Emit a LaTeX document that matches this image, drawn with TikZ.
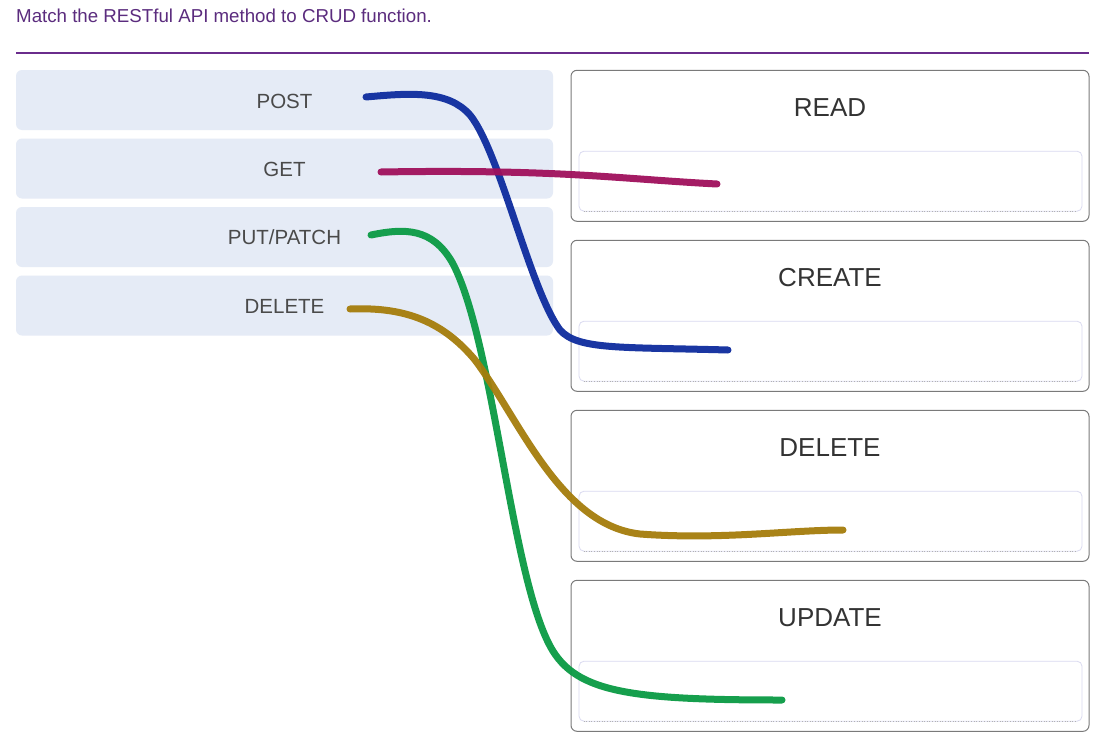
\documentclass[tikz,border=0pt]{standalone}
\usepackage{fontspec}
\setmainfont{Liberation Sans}
\definecolor{titlepurple}{HTML}{5B2C7E}
\definecolor{rulepurple}{HTML}{6A2C8C}
\definecolor{leftfill}{HTML}{E5EBF6}
\definecolor{lefttext}{HTML}{4A4A4A}
\definecolor{righttext}{HTML}{333333}
\definecolor{boxborder}{HTML}{7A7A7A}
\definecolor{slotborder}{HTML}{DADAF0}
\definecolor{penblue}{HTML}{0E2C9E}
\definecolor{penmag}{HTML}{A0105C}
\definecolor{pengreen}{HTML}{0A9A44}
\definecolor{pengold}{HTML}{A57D0C}
\begin{document}
\begin{tikzpicture}[x=1pt,y=-1pt,
  leftbox/.style={rectangle, rounded corners=6pt, fill=leftfill, draw=none,
    minimum width=537pt, minimum height=60pt, inner sep=0pt},
  leftlabel/.style={anchor=base, text=lefttext, inner sep=0pt,
    font=\fontsize{20.5}{24}\selectfont},
  rightbox/.style={rectangle, rounded corners=6pt, draw=boxborder, line width=1pt,
    fill=white, minimum width=518pt, minimum height=151pt, inner sep=0pt},
  rightlabel/.style={anchor=base, text=righttext, inner sep=0pt,
    font=\fontsize{26}{30}\selectfont},
  slot/.style={rectangle, rounded corners=5pt, draw=slotborder, line width=0.8pt,
    minimum width=503pt, minimum height=60pt, inner sep=0pt},
  pen/.style={line width=7pt, line cap=round, line join=round, opacity=0.95}
]
\useasboundingbox (0,0) rectangle (1102,752);
\fill[white] (0,0) rectangle (1102,752);

% title and rule
\node[anchor=base west, inner sep=0pt, text=titlepurple,
  font=\fontsize{18.7}{22}\selectfont] (title) at (16,22.7)
  {Match the RESTful API method to CRUD function.};
\coordinate (ruleL) at (16,53.3);
\coordinate (ruleR) at (1089,53.3);
\draw[rulepurple, line width=2pt] (ruleL) -- (ruleR);

% left items
\node[leftbox] (bpost) at (284.5,100) {};
\node[leftbox] (bget)  at (284.5,168.5) {};
\node[leftbox] (bput)  at (284.5,237) {};
\node[leftbox] (bdel)  at (284.5,305.5) {};
\node[leftlabel] (lpost) at (284.5,108) {POST};
\node[leftlabel] (lget)  at (284.5,176.3) {GET};
\node[leftlabel] (lput)  at (284.5,244.8) {PUT/PATCH};
\node[leftlabel] (ldel)  at (284.5,313.2) {DELETE};

% right targets
\foreach \name/\txt/\cy in {read/READ/145.8, create/CREATE/315.8, delete/DELETE/485.8, update/UPDATE/655.8}{
  \node[rightbox] (r\name) at (830,\cy) {};
  \node[rightlabel] (t\name) at (830,\cy-29.6) {\txt};
  \node[slot] (s\name) at (830.5,\cy+35.4) {};
  \draw[gray!60, line width=0.6pt, dotted] ([xshift=5pt]s\name.south west) -- ([xshift=-5pt]s\name.south east);
}

% connector end points
\coordinate (p1) at (366,97);
\coordinate (q1) at (728,350);
\coordinate (p2) at (381,172);
\coordinate (q2) at (717,184);
\coordinate (p3) at (371,235);
\coordinate (q3) at (782,700);
\coordinate (p4) at (350,309);
\coordinate (q4) at (843,530);

% hand drawn connectors
\draw[pen, penblue] (p1) .. controls (410,93) and (448,90) .. (470,115)
  .. controls (500,152) and (530,290) .. (560,330)
  .. controls (578,350) and (620,347) .. (q1);
\draw[pen, penmag] (p2) .. controls (560,169) and (620,179) .. (q2);
\draw[pen, pengreen] (p3) .. controls (405,228) and (432,228) .. (452,262)
  .. controls (492,335) and (510,565) .. (548,642)
  .. controls (572,692) and (625,700) .. (q3);
\draw[pen, pengold] (p4) .. controls (400,307) and (440,318) .. (475,360)
  .. controls (520,420) and (560,525) .. (640,534)
  .. controls (720,540) and (790,530) .. (q4);
\end{tikzpicture}
\end{document}
